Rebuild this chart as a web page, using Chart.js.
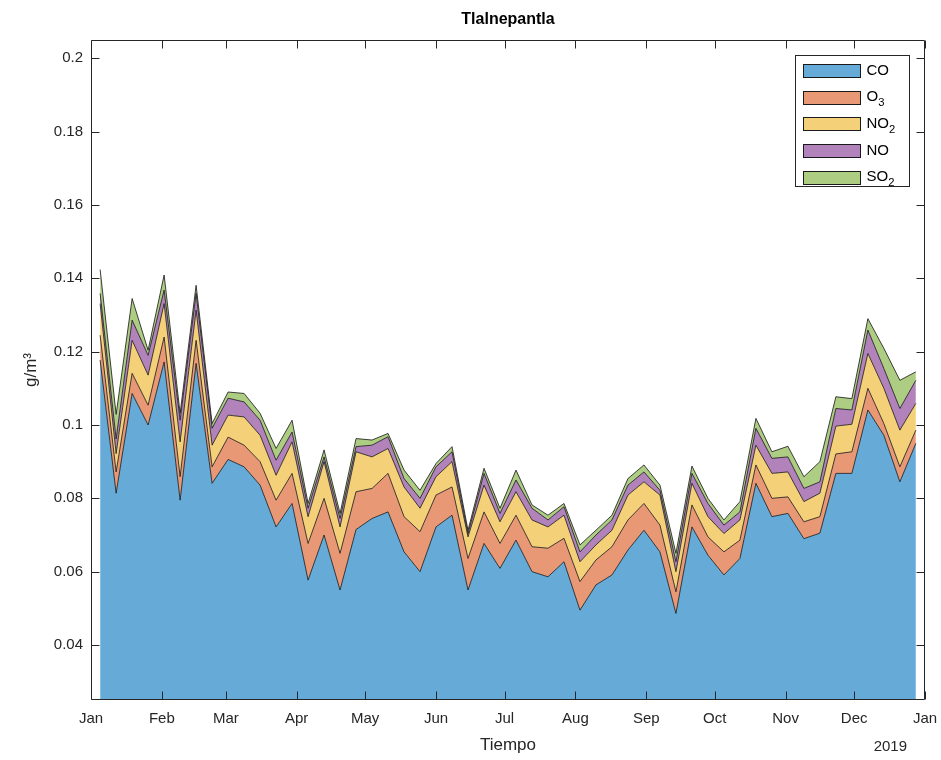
<!DOCTYPE html>
<html>
<head>
<meta charset="utf-8">
<title>Tlalnepantla</title>
<script src="https://cdn.jsdelivr.net/npm/chart.js@4.4.1/dist/chart.umd.min.js"></script>
<style>
  html, body { margin: 0; padding: 0; background: #fff; }
</style>
</head>
<body>
<canvas id="grafica" width="941" height="760"></canvas>
<script>
// Día del año (2019) de cada muestra semanal
const dias = [4, 11, 18, 25, 32, 39, 46, 53, 60, 67, 74, 81, 88, 95, 102, 109, 116, 123,
  130, 137, 144, 151, 158, 165, 172, 179, 186, 193, 200, 207, 214, 221, 228, 235, 242,
  249, 256, 263, 270, 277, 284, 291, 298, 305, 312, 319, 326, 333, 340, 347, 354, 361];

// Marcas del eje de tiempo (inicio de cada mes)
const inicioMes = [0, 31, 59, 90, 120, 151, 181, 212, 243, 273, 304, 334, 365];
const nombreMes = ['Jan', 'Feb', 'Mar', 'Apr', 'May', 'Jun', 'Jul', 'Aug', 'Sep', 'Oct', 'Nov', 'Dec', 'Jan'];
const ticksY = [0.04, 0.06, 0.08, 0.1, 0.12, 0.14, 0.16, 0.18, 0.2];

// Concentraciones semanales (g/m3), apiladas en este orden
const co = [0.1177, 0.0814, 0.1086, 0.1000, 0.1172, 0.0795, 0.1168, 0.0841, 0.0906, 0.0886,
  0.0836, 0.0722, 0.0786, 0.0577, 0.0700, 0.0550, 0.0715, 0.0745, 0.0763, 0.0654,
  0.0600, 0.0722, 0.0754, 0.0550, 0.0677, 0.0609, 0.0686, 0.0600, 0.0586, 0.0627,
  0.0495, 0.0564, 0.0591, 0.0659, 0.0713, 0.0654, 0.0486, 0.0722, 0.0645, 0.0591,
  0.0636, 0.0841, 0.0750, 0.0759, 0.0690, 0.0705, 0.0868, 0.0868, 0.1041, 0.0972,
  0.0845, 0.0950];
const o3 = [0.0068, 0.0058, 0.0055, 0.0054, 0.0068, 0.0064, 0.0063, 0.0045, 0.0061, 0.0059,
  0.0064, 0.0073, 0.0082, 0.0100, 0.0100, 0.0100, 0.0103, 0.0082, 0.0105, 0.0096,
  0.0109, 0.0087, 0.0077, 0.0086, 0.0086, 0.0068, 0.0068, 0.0068, 0.0078, 0.0064,
  0.0078, 0.0068, 0.0077, 0.0082, 0.0073, 0.0073, 0.0059, 0.0060, 0.0050, 0.0063,
  0.0050, 0.0050, 0.0050, 0.0045, 0.0046, 0.0045, 0.0053, 0.0059, 0.0059, 0.0032,
  0.0041, 0.0036];
const no2 = [0.0086, 0.0050, 0.0090, 0.0082, 0.0091, 0.0095, 0.0082, 0.0059, 0.0060, 0.0077,
  0.0072, 0.0068, 0.0086, 0.0073, 0.0100, 0.0072, 0.0109, 0.0086, 0.0068, 0.0081,
  0.0064, 0.0050, 0.0069, 0.0059, 0.0073, 0.0059, 0.0064, 0.0073, 0.0058, 0.0063,
  0.0054, 0.0041, 0.0045, 0.0068, 0.0059, 0.0082, 0.0055, 0.0059, 0.0055, 0.0050,
  0.0055, 0.0054, 0.0068, 0.0068, 0.0055, 0.0064, 0.0076, 0.0075, 0.0095, 0.0096,
  0.0100, 0.0073];
const no = [0.0028, 0.0040, 0.0055, 0.0054, 0.0037, 0.0059, 0.0046, 0.0046, 0.0046, 0.0041,
  0.0041, 0.0041, 0.0027, 0.0023, 0.0013, 0.0023, 0.0014, 0.0032, 0.0032, 0.0023,
  0.0027, 0.0027, 0.0027, 0.0009, 0.0032, 0.0023, 0.0032, 0.0032, 0.0019, 0.0023,
  0.0027, 0.0027, 0.0028, 0.0027, 0.0027, 0.0013, 0.0027, 0.0027, 0.0036, 0.0023,
  0.0022, 0.0046, 0.0041, 0.0041, 0.0036, 0.0031, 0.0048, 0.0039, 0.0064, 0.0054,
  0.0059, 0.0063];
const so2 = [0.0065, 0.0067, 0.0059, 0.0014, 0.0041, 0.0019, 0.0022, 0.0013, 0.0017, 0.0023,
  0.0019, 0.0032, 0.0032, 0.0013, 0.0019, 0.0014, 0.0022, 0.0014, 0.0009, 0.0023,
  0.0022, 0.0009, 0.0014, 0.0009, 0.0014, 0.0014, 0.0027, 0.0009, 0.0013, 0.0009,
  0.0019, 0.0013, 0.0013, 0.0018, 0.0019, 0.0014, 0.0023, 0.0020, 0.0014, 0.0014,
  0.0028, 0.0027, 0.0018, 0.0029, 0.0032, 0.0055, 0.0032, 0.0031, 0.0031, 0.0055,
  0.0077, 0.0023];

const contaminantes = ['CO', 'O3', 'NO2', 'NO', 'SO2'];
const valores = [co, o3, no2, no, so2];
const colores = ['#66AAD7', '#E89875', '#F4D079', '#B282BB', '#ADCD83'];

const fuente = '"Liberation Sans", Arial, Helvetica, sans-serif';
const tinta = '#262626';
Chart.defaults.font.family = fuente;
Chart.defaults.color = tinta;

const datasets = valores.map((serie, i) => ({
  label: contaminantes[i],
  data: serie.map((v, j) => ({ x: dias[j], y: v })),
  backgroundColor: colores[i],
  borderColor: '#141414',
  borderWidth: 0.8,
  pointRadius: 0,
  tension: 0,
  fill: i === 0 ? 'start' : '-1'
}));

// Escribe un nombre químico con los dígitos como subíndice
function textoQuimico(ctx, txt, x, y, tam) {
  const partes = txt.match(/[A-Za-z]+|\d+/g);
  ctx.textBaseline = 'middle';
  ctx.textAlign = 'left';
  for (const p of partes) {
    const esSub = /\d/.test(p);
    ctx.font = (esSub ? tam * 0.75 : tam) + 'px ' + fuente;
    ctx.fillText(p, x, esSub ? y + 6 : y);
    x += ctx.measureText(p).width;
  }
}

// Caja de ejes, marcas hacia dentro, título, leyenda y año
const marco = {
  id: 'marco',
  afterDraw(chart) {
    const { ctx, chartArea: a, scales: { x, y } } = chart;
    const L = Math.round(a.left) + 0.5, R = Math.round(a.right) - 0.5;
    const T = Math.round(a.top) + 0.5, B = Math.round(a.bottom) - 0.5;
    ctx.save();
    ctx.strokeStyle = tinta;
    ctx.lineWidth = 1;
    ctx.beginPath();
    ctx.rect(L, T, R - L, B - T);
    const largo = 8;
    x.ticks.forEach(t => {
      const px = Math.round(x.getPixelForValue(t.value)) + 0.5;
      ctx.moveTo(px, B); ctx.lineTo(px, B - largo);
      ctx.moveTo(px, T); ctx.lineTo(px, T + largo);
    });
    y.ticks.forEach(t => {
      const py = Math.round(y.getPixelForValue(t.value)) + 0.5;
      ctx.moveTo(L, py); ctx.lineTo(L + largo, py);
      ctx.moveTo(R, py); ctx.lineTo(R - largo, py);
    });
    ctx.stroke();

    ctx.fillStyle = '#000';
    ctx.font = 'bold 16px ' + fuente;
    ctx.textAlign = 'center';
    ctx.textBaseline = 'middle';
    ctx.fillText('Tlalnepantla', (a.left + a.right) / 2, 20);

    ctx.fillStyle = tinta;
    ctx.font = '15px ' + fuente;
    ctx.textAlign = 'right';
    ctx.fillText('2019', a.right - 18, chart.height - 13);

    // leyenda
    const bx = Math.round(a.right - 130) + 0.5, by = Math.round(a.top + 15) + 0.5;
    const bw = 114, bh = 131;
    ctx.fillStyle = '#fff';
    ctx.fillRect(bx, by, bw, bh);
    ctx.strokeStyle = tinta;
    ctx.strokeRect(bx, by, bw, bh);
    contaminantes.forEach((nom, i) => {
      const cy = by + 15 + i * 26.7;
      ctx.fillStyle = colores[i];
      ctx.fillRect(bx + 8, Math.round(cy - 6.5), 57, 13);
      ctx.strokeStyle = '#1a1a1a';
      ctx.strokeRect(bx + 8, Math.round(cy - 6.5) + 0.5, 57, 13);
      ctx.fillStyle = '#000';
      textoQuimico(ctx, nom, bx + 71, cy, 15);
    });
    ctx.restore();
  }
};

new Chart(document.getElementById('grafica'), {
  type: 'line',
  data: { datasets },
  options: {
    responsive: false,
    animation: false,
    devicePixelRatio: 1,
    layout: { padding: { left: 0, right: 16, top: 40, bottom: 0 } },
    plugins: { legend: { display: false }, tooltip: { enabled: false } },
    scales: {
      x: {
        type: 'linear',
        min: 0,
        max: 365,
        grid: { display: false, drawTicks: false },
        border: { display: false },
        afterFit: s => { s.height = 60; s.paddingLeft = 0; s.paddingRight = 0; },
        afterBuildTicks: s => { s.ticks = inicioMes.map(v => ({ value: v })); },
        ticks: {
          font: { size: 15 },
          padding: 10,
          maxRotation: 0,
          autoSkip: false,
          callback: v => nombreMes[inicioMes.indexOf(v)]
        },
        title: { display: true, text: 'Tiempo', font: { size: 17 }, padding: { top: 0, bottom: 4 } }
      },
      y: {
        type: 'linear',
        stacked: true,
        min: 0.025,
        max: 0.205,
        grid: { display: false, drawTicks: false },
        border: { display: false },
        afterFit: s => { s.width = 91; s.paddingTop = 0; s.paddingBottom = 0; },
        afterBuildTicks: s => { s.ticks = ticksY.map(v => ({ value: v })); },
        ticks: {
          font: { size: 15 },
          padding: 8,
          callback: v => String(+v.toFixed(2))
        },
        title: { display: true, text: 'g/m³', font: { size: 17 }, padding: { top: 21, bottom: 0 } }
      }
    }
  },
  plugins: [marco]
});
</script>
</body>
</html>
